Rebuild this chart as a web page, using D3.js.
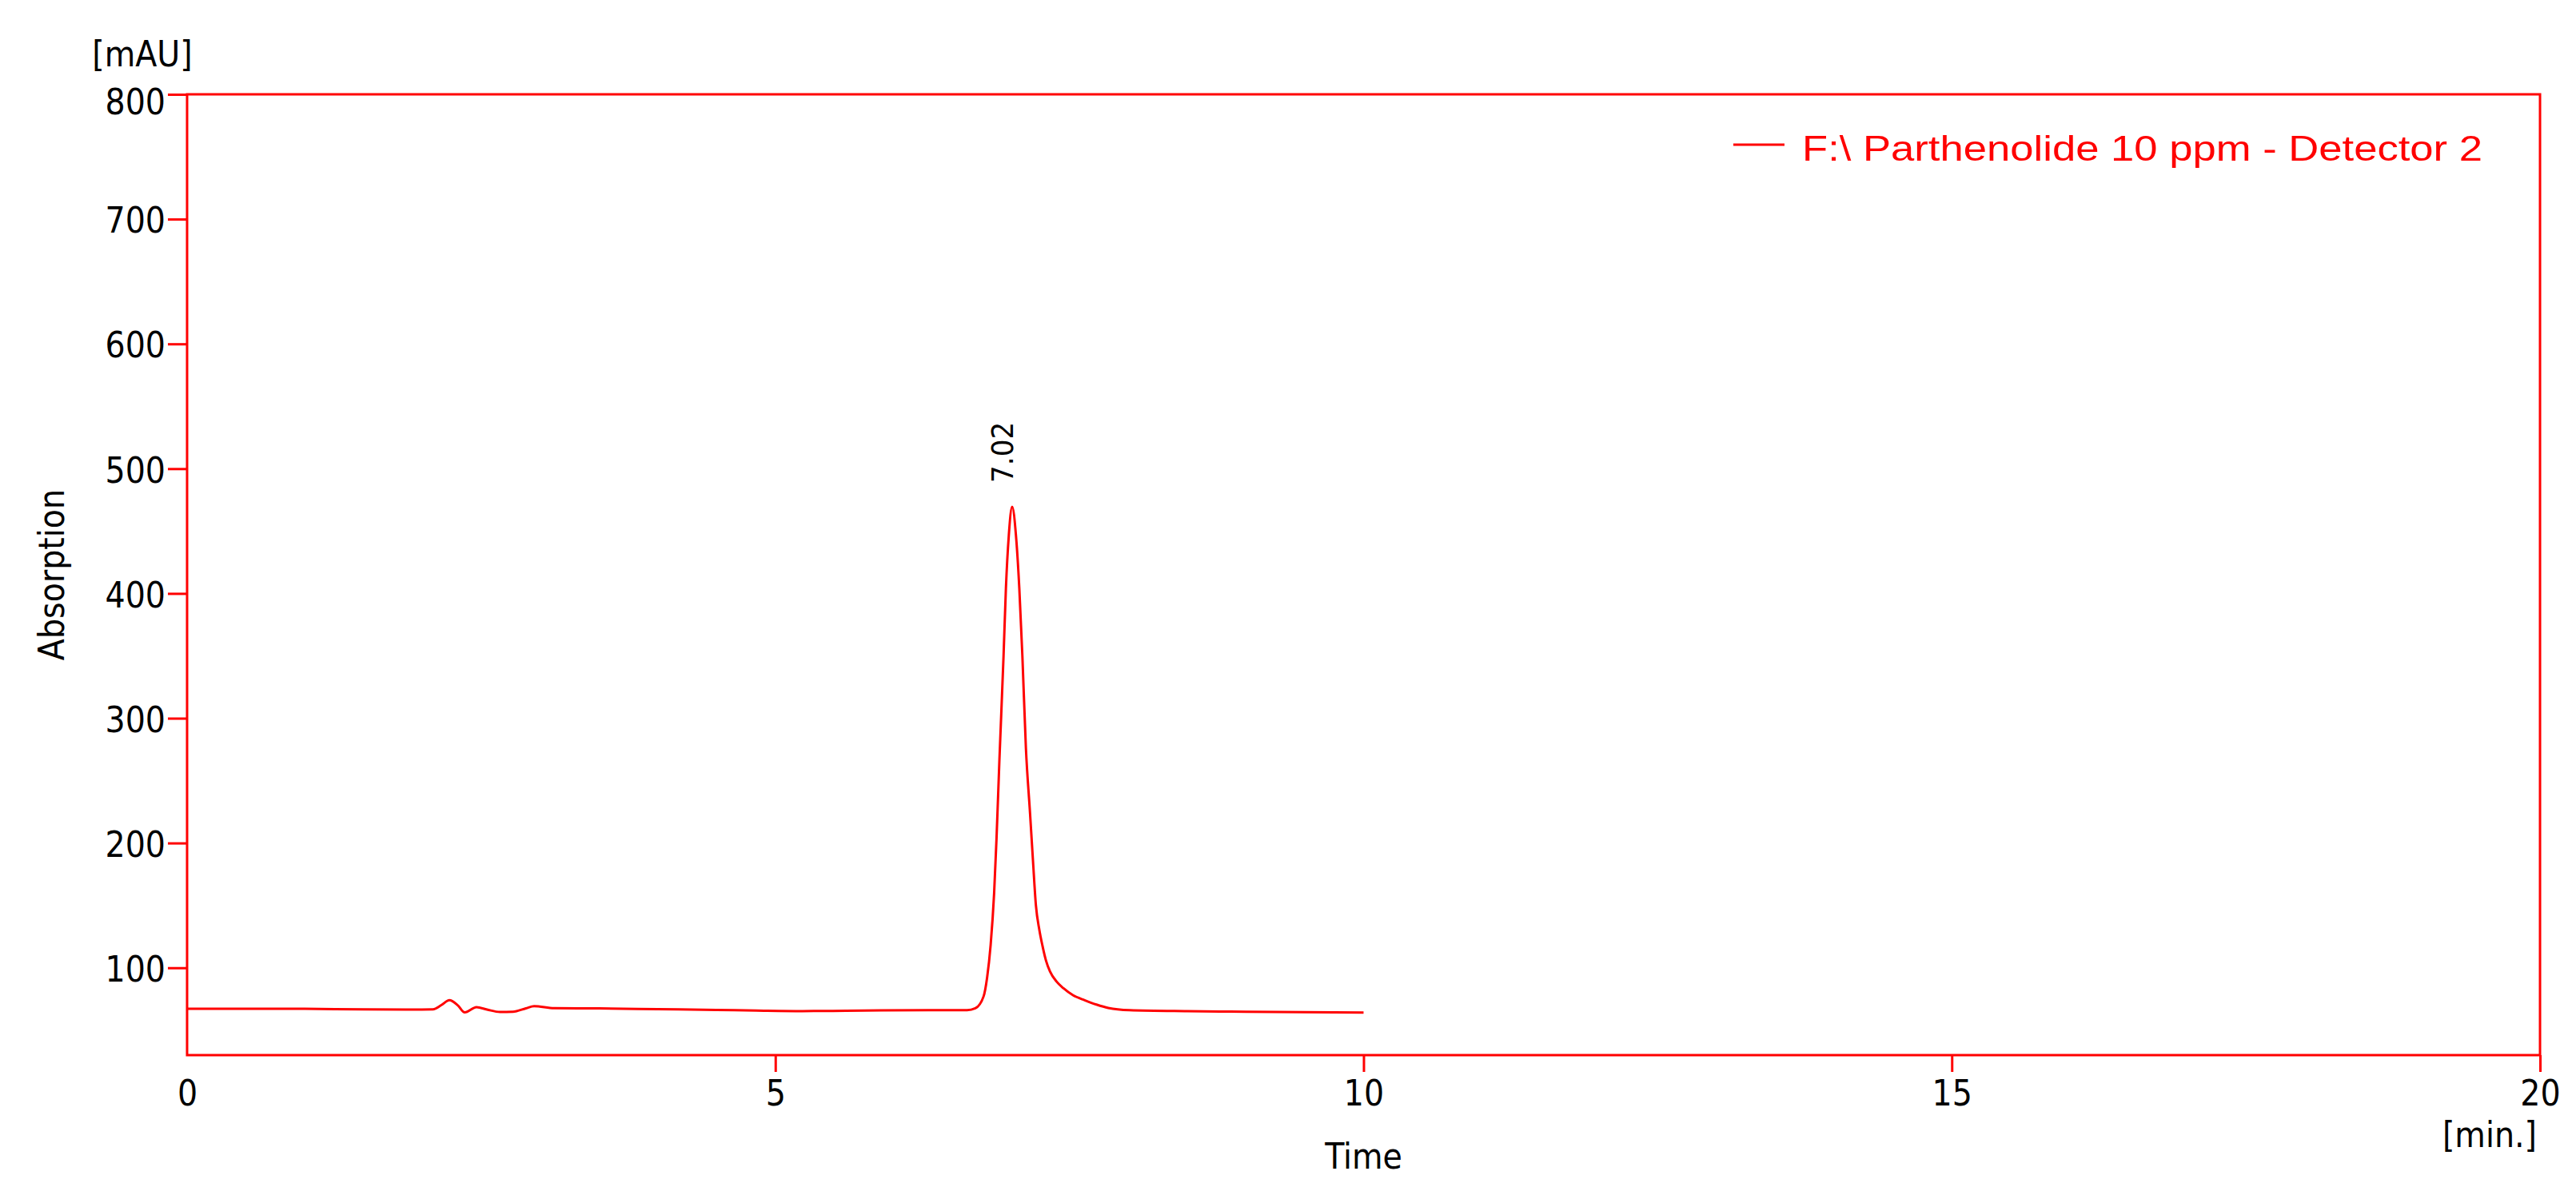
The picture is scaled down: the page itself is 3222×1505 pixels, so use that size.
<!DOCTYPE html>
<html>
<head>
<meta charset="utf-8">
<script src="https://cdn.jsdelivr.net/npm/d3@7"></script>
<style>
  html, body { margin: 0; padding: 0; background: #fff; }
  svg text { font-family: "DejaVu Sans", sans-serif; font-stretch: condensed; fill: #000; }
</style>
</head>
<body>
<div id="chart"></div>
<script>
// chromatogram trace (time in min, absorption in mAU)
var times = [0, 0.5, 1.0, 1.5, 1.9, 2.09, 2.16, 2.23, 2.30, 2.36, 2.46, 2.55, 2.66, 2.77, 2.88, 2.95, 3.12, 3.5, 4.0, 4.5, 4.84, 5.23, 5.6, 5.9, 6.3, 6.63,
             6.70, 6.77, 6.80, 6.83, 6.86, 6.88, 6.905, 6.94, 6.96, 6.985, 7.013, 7.045, 7.074, 7.10, 7.13, 7.165, 7.19, 7.215, 7.245, 7.27, 7.30, 7.335, 7.39, 7.45, 7.53, 7.63, 7.73, 7.83,
             8.01, 8.5, 9.0, 9.5, 10.0];
var absorb = [67.2, 67.2, 67.1, 66.6, 66.5, 66.7, 70, 74, 70, 64.2, 68.4, 66.5, 64.6, 64.8, 67.5, 69.2, 67.6, 67.4, 66.8, 66.2, 65.7, 65.3, 65.5, 65.8, 66, 66,
              67.5, 77, 92, 118, 160, 203, 267, 350, 404, 447, 469.5, 447, 404, 350, 276, 224, 186, 150, 130, 118, 106, 97, 89, 83.5, 78, 74, 70.5, 67.8,
              66, 65.2, 64.8, 64.5, 64.1];
var peakTimes = [7.02];
var peakLabels = ["7.02"];
var xTicks = [0, 5, 10, 15, 20];
var yTicks = [100, 200, 300, 400, 500, 600, 700, 800];
var legendLabel = "F:\\ Parthenolide 10 ppm - Detector 2";

var width = 3222, height = 1505;
var margin = {top: 118, right: 45, bottom: 185, left: 234};
var red = "#ff0000";

var svg = d3.select("#chart").append("svg")
    .attr("width", width)
    .attr("height", height);

var x = d3.scaleLinear().domain([0, 20]).range([margin.left, width - margin.right]);
var y = d3.scaleLinear().domain([30, 800]).range([height - margin.bottom, margin.top]);

var data = times.map(function(t, i){ return {t: t, v: absorb[i]}; });

// y axis
var yAxis = svg.append("g")
    .attr("transform", "translate(" + margin.left + ",0)")
    .call(d3.axisLeft(y).tickValues(yTicks).tickSize(24).tickPadding(3));
yAxis.select(".domain").remove();
yAxis.selectAll(".tick line").attr("stroke", red).attr("stroke-width", 3);
yAxis.selectAll(".tick text")
    .attr("font-size", 44)
    .attr("font-family", null)
    .attr("dy", function(d){ return d === 800 ? "0.55em" : "0.38em"; });

// x axis
var xAxis = svg.append("g")
    .attr("transform", "translate(0," + (height - margin.bottom) + ")")
    .call(d3.axisBottom(x).tickValues(xTicks).tickSize(21).tickPadding(11));
xAxis.select(".domain").remove();
xAxis.selectAll(".tick line")
    .attr("stroke", red).attr("stroke-width", 3)
    .attr("opacity", function(d){ return d === 0 ? 0 : 1; });
xAxis.selectAll(".tick text").attr("font-size", 44).attr("font-family", null);

// frame
svg.append("rect")
    .attr("x", x(0)).attr("y", y(800))
    .attr("width", x(20) - x(0)).attr("height", y(30) - y(800))
    .attr("fill", "none").attr("stroke", red).attr("stroke-width", 3);

// trace
var line = d3.line()
    .x(function(d){ return x(d.t); })
    .y(function(d){ return y(d.v); })
    .curve(d3.curveMonotoneX);

svg.append("path")
    .datum(data)
    .attr("fill", "none")
    .attr("stroke", red)
    .attr("stroke-width", 3)
    .attr("d", line);

// peak labels
peakTimes.forEach(function(pt, i){
    var top = d3.max(data, function(d){ return Math.abs(d.t - pt) < 0.1 ? d.v : 0; });
    svg.append("text")
        .attr("transform", "translate(" + x(pt) + "," + (y(top) - 30) + ") rotate(-90)")
        .attr("font-size", 38)
        .text(peakLabels[i]);
});

// axis titles
svg.append("text")
    .attr("x", 178).attr("y", 83)
    .attr("text-anchor", "middle")
    .attr("font-size", 44)
    .text("[mAU]");

svg.append("text")
    .attr("transform", "translate(80,719) rotate(-90)")
    .attr("text-anchor", "middle")
    .attr("font-size", 44)
    .text("Absorption");

svg.append("text")
    .attr("x", x(10)).attr("y", 1462)
    .attr("text-anchor", "middle")
    .attr("font-size", 44)
    .text("Time");

svg.append("text")
    .attr("x", 3173).attr("y", 1435)
    .attr("text-anchor", "end")
    .attr("font-size", 44)
    .text("[min.]");

// legend
svg.append("line")
    .attr("x1", 2168).attr("x2", 2232)
    .attr("y1", 181).attr("y2", 181)
    .attr("stroke", red).attr("stroke-width", 3);

svg.append("text")
    .attr("x", 2254).attr("y", 201)
    .attr("font-size", 45)
    .style("font-family", "'Liberation Sans', Arial, sans-serif")
    .style("font-stretch", "normal")
    .style("fill", red)
    .attr("textLength", 851)
    .attr("lengthAdjust", "spacingAndGlyphs")
    .text(legendLabel);
</script>
</body>
</html>
